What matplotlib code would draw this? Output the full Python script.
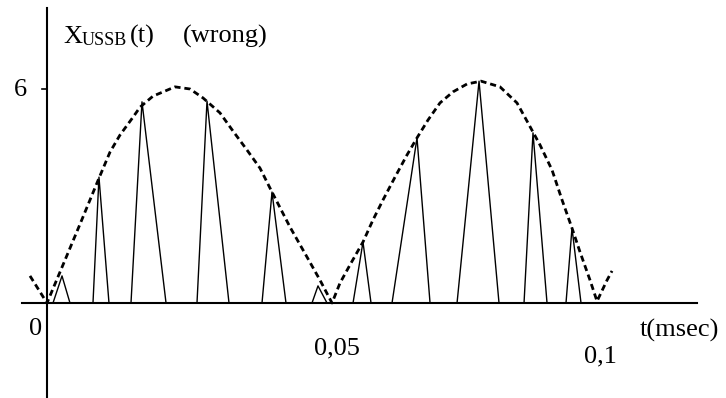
import matplotlib
matplotlib.use("Agg")
import matplotlib.pyplot as plt

# dashed envelope (t in msec, amplitude)
env_t = [-0.00309, 0.0, 0.00291, 0.00600, 0.00945, 0.01145, 0.01327, 0.01564, 0.01691,
         0.01927, 0.02327, 0.02600, 0.02836, 0.03145, 0.03382, 0.03636, 0.03873, 0.04091,
         0.04418, 0.04727, 0.04964, 0.05182, 0.05327, 0.05509, 0.05745, 0.05927, 0.06109,
         0.06327, 0.06545, 0.06727, 0.06927, 0.07145, 0.07382, 0.07636, 0.07891, 0.08236,
         0.08545, 0.08745, 0.08964, 0.09182, 0.09364, 0.09545, 0.09691, 0.09873, 0.10000,
         0.10182, 0.10273]
env_v = [0.76, 0.0, 1.07, 2.21, 3.50, 4.23, 4.71, 5.21, 5.49,
         5.80, 6.06, 6.00, 5.75, 5.33, 4.82, 4.29, 3.78, 3.11,
         2.13, 1.29, 0.64, 0.0, 0.56, 1.07, 1.71, 2.33, 2.89,
         3.53, 4.15, 4.63, 5.13, 5.61, 5.92, 6.14, 6.22, 6.06,
         5.61, 5.05, 4.43, 3.73, 2.89, 2.10, 1.43, 0.64, 0.05,
         0.64, 0.90]

# narrow triangular pulses: left foot, apex, right foot, apex height
pulse_left = [0.00109, 0.00836, 0.01527, 0.02727, 0.03909, 0.04818,
              0.05564, 0.06273, 0.07455, 0.08673, 0.09436]
pulse_peak = [0.00273, 0.00945, 0.01727, 0.02909, 0.04091, 0.04927,
              0.05745, 0.06727, 0.07855, 0.08836, 0.09545]
pulse_right = [0.00418, 0.01127, 0.02164, 0.03309, 0.04345, 0.05091,
               0.05891, 0.06964, 0.08218, 0.09091, 0.09709]
pulse_height = [0.76, 3.53, 5.64, 5.66, 3.11, 0.48, 1.71, 4.63, 6.22, 4.77, 2.10]

xticks = [0, 0.05, 0.1]
xtick_labels = ["0", "0,05", "0,1"]
ytick = 6

plt.rcParams['font.family'] = ['Liberation Serif', 'DejaVu Serif']

fig = plt.figure(figsize=(7.26, 3.98), dpi=100)
ax = fig.add_axes([0, 0, 1, 1])
ax.set_xlim(-0.008545, 0.12345)
ax.set_ylim(-2.663, 8.495)
ax.axis('off')

# hand drawn axes
ax.plot([0, 0], [-2.63, 8.27], color='black', lw=1.5)
ax.plot([-0.004545, 0.11818], [0, 0], color='black', lw=1.5)
ax.plot([-0.0009, 0], [ytick, ytick], color='black', lw=1.2)

for l, p, r, h in zip(pulse_left, pulse_peak, pulse_right, pulse_height):
    ax.plot([l, p, r], [0, h, 0], color='black', lw=1.0)

ax.plot(env_t, env_v, color='black', lw=2.0, linestyle=(0, (2.2, 1.4)),
        solid_joinstyle='round', dash_joinstyle='round')

fs = 19
ax.text(-0.0049, 5.97, "6", fontsize=fs, ha='center', va='center')
ax.text(-0.0021, -0.73, xtick_labels[0], fontsize=fs, ha='center', va='center')
ax.text(0.0527, -1.26, xtick_labels[1], fontsize=fs, ha='center', va='center')
ax.text(0.1007, -1.49, xtick_labels[2], fontsize=fs, ha='center', va='center')
ax.text(0.1078, -0.76, "t(msec)", fontsize=fs, ha='left', va='center')

ax.text(0.0029, 7.29, "X", fontsize=fs, ha='left', va='baseline')
ax.text(0.00636, 7.23, "USSB", fontsize=13, ha='left', va='baseline')
ax.text(0.0151, 7.29, "(t)", fontsize=fs, ha='left', va='baseline')
ax.text(0.02473, 7.29, "(wrong)", fontsize=fs, ha='left', va='baseline')

fig.savefig("out.png", dpi=100)
